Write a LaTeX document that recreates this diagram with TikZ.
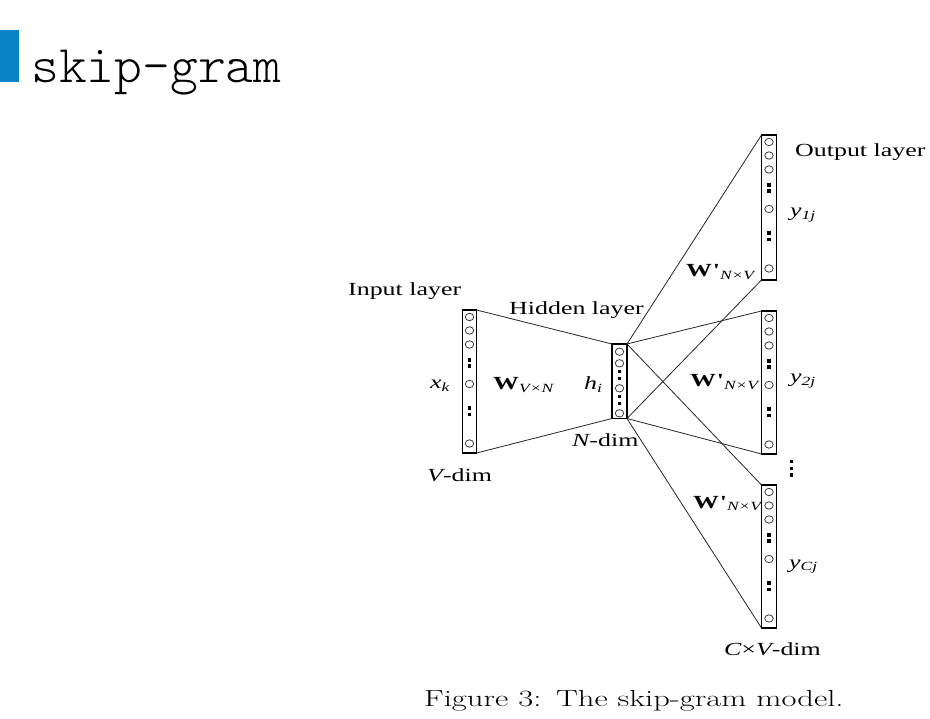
\documentclass[tikz,border=0pt]{standalone}
\usepackage{fontspec}
\usepackage{graphicx}
\newfontfamily\labfont{Liberation Serif}
\newfontfamily\titlefont{lmmonolt10-regular.otf}
\newcommand{\sx}[1]{\scalebox{1.4}[1]{#1}}
\newcommand{\subt}[1]{\raisebox{-0.35ex}{\fontsize{12.5}{13}\selectfont\mdseries\itshape #1}}
\definecolor{titleblue}{RGB}{10,130,200}
\tikzset{
  lab/.style={inner sep=0pt, font=\labfont\fontsize{18.5}{20}\selectfont},
  layerbox/.style={draw, line width=1.4pt, rectangle, inner sep=0pt, outer sep=0pt, minimum width=14pt},
  cir/.style={draw=black!75, line width=0.8pt},
  conn/.style={draw=black!85, line width=0.8pt},
}
\newcommand{\fillbig}[1]{%
  \foreach \o in {7,20.5,34.5,74,133.5}{\draw[cir] ([yshift=-\o pt]#1.north) ellipse[x radius=4.2pt, y radius=3.7pt];}%
  \foreach \o in {50,56,98,104.5}{\fill ([yshift=-\o pt]#1.north) +(-1.7pt,-1.7pt) rectangle +(1.7pt,1.7pt);}%
}
\begin{document}
\begin{tikzpicture}[x=1pt,y=-1pt]
\useasboundingbox (0,0) rectangle (930,719);
\fill[white] (0,0) rectangle (930,719);
% title
\fill[titleblue] (0,30) rectangle (19,82);
\node[anchor=base west, inner sep=0pt] (title) at (31,83) {\titlefont\fontsize{53}{55}\selectfont skip-gram};
% layers
\node[layerbox, minimum height=143pt] (in) at (469.5,381.5) {};
\node[layerbox, minimum height=74.5pt, minimum width=15pt] (hid) at (619.5,381.25) {};
\node[layerbox, minimum height=145pt, minimum width=15pt] (o1) at (769,207.5) {};
\node[layerbox, minimum height=143pt, minimum width=15pt] (o2) at (769,382.5) {};
\node[layerbox, minimum height=143pt, minimum width=15pt] (o3) at (769,556.5) {};
\fillbig{in}
\fillbig{o1}
\fillbig{o2}
\fillbig{o3}
\foreach \o in {7.7,19.3,44.3,69.3}{\draw[cir] ([yshift=-\o pt]hid.north) ellipse[x radius=4.2pt, y radius=3.7pt];}
\foreach \o in {27.7,34.3,52.7,59.3}{\fill ([yshift=-\o pt]hid.north) +(-1.6pt,-1.6pt) rectangle +(1.6pt,1.6pt);}
% connectors
\draw[conn] (in.north east) -- (hid.north west);
\draw[conn] (in.south east) -- (hid.south west);
\draw[conn] (hid.north east) -- (o1.north west);
\draw[conn] (hid.north east) -- (o2.north west);
\draw[conn] (hid.north east) -- (o3.north west);
\draw[conn] (hid.south east) -- (o1.south west);
\draw[conn] (hid.south east) -- (o2.south west);
\draw[conn] (hid.south east) -- (o3.south west);
% vertical dots between outputs
\foreach \yy in {461.7,468.3,475}{\fill (789.5,\yy-1.6) rectangle (792.7,\yy+1.6);}
% labels
\node[lab, anchor=base west] (inlab) at (348,296) {\sx{Input layer}};
\node[lab, anchor=base west] (hidlab) at (509,315) {\sx{Hidden layer}};
\node[lab, anchor=base west] (outlab) at (795,157) {\sx{Output layer}};
\node[lab, anchor=base west] (xk) at (430,389) {\sx{\itshape x\subt{k}}};
\node[lab, anchor=base west] (wvn) at (493,390) {\sx{\bfseries W\subt{V×N}}};
\node[lab, anchor=base west] (hi) at (584,390) {\sx{\itshape h\subt{i}}};
\node[lab, anchor=base west] (ndim) at (572,447) {\sx{\itshape N\upshape -dim}};
\node[lab, anchor=base west] (vdim) at (427,482) {\sx{\itshape V\upshape -dim}};
\node[lab, anchor=base west] (y1) at (790,217) {\sx{\itshape y\subt{1j}}};
\node[lab, anchor=base west] (y2) at (790,383) {\sx{\itshape y\subt{2j}}};
\node[lab, anchor=base west] (yc) at (789,568) {\sx{\itshape y\subt{Cj}}};
\node[lab, anchor=base west] (w1) at (686,277) {\sx{\bfseries W\kern0.5pt'\subt{N×V}}};
\node[lab, anchor=base west] (w2) at (690,387) {\sx{\bfseries W\kern0.5pt'\subt{N×V}}};
\node[lab, anchor=base west] (w3) at (693,508) {\sx{\bfseries W\kern0.5pt'\subt{N×V}}};
\node[lab, anchor=base west] (cvdim) at (724,655) {\sx{\itshape C\upshape ×\itshape V\upshape -dim}};
% caption
\node[anchor=base west, inner sep=0pt] (cap) at (424,706) {\fontsize{23.3}{26}\selectfont\sx{Figure 3:\hspace{0.45em}The skip-gram model.}};
\end{tikzpicture}
\end{document}
